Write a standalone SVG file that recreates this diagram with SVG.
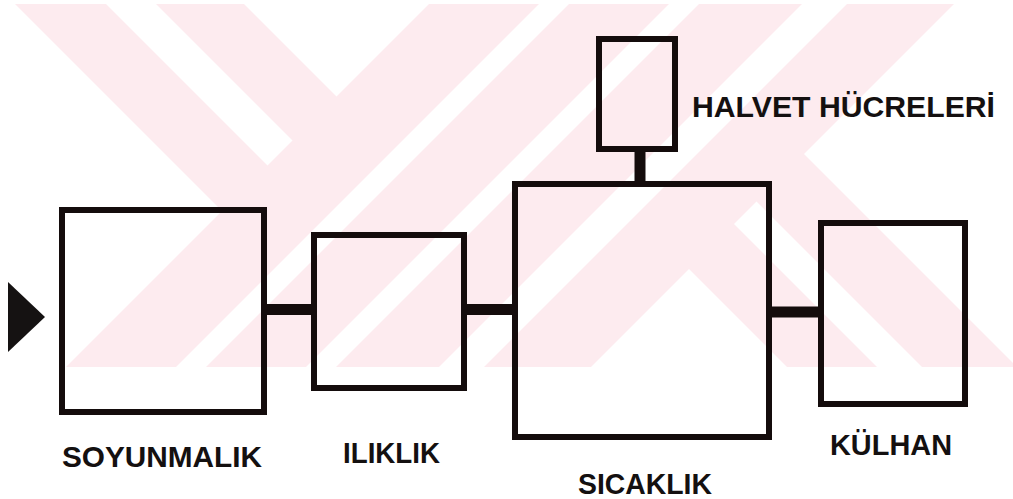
<svg xmlns="http://www.w3.org/2000/svg" width="1013" height="499" viewBox="0 0 1013 499">
  <style>
    .wm { fill: #fdebef; }
    .box { fill: none; stroke: #140c0c; stroke-width: 6; }
    .conn { stroke: #140c0c; stroke-width: 11; fill: none; }
    .lbl { font-family: "Liberation Sans", Arial, sans-serif; font-weight: bold; font-size: 30px; fill: #141010; }
  </style>
  <defs>
    <clipPath id="wmclip">
      <rect x="0" y="4" width="1013" height="363"/>
    </clipPath>
  </defs>
  <rect x="0" y="0" width="1013" height="499" fill="#ffffff"/>
  <!-- watermark -->
  <g id="watermark" clip-path="url(#wmclip)">
    <g transform="matrix(0.5 -0.5 0.5 0.5 0 0)">
      <rect class="wm" x="11" y="-400" width="91" height="840"/>
      <rect class="wm" x="152" y="-400" width="88" height="840"/>
      <rect class="wm" x="-500" y="433" width="1600" height="110"/>
      <rect class="wm" x="-500" y="573" width="1600" height="100"/>
      <rect class="wm" x="-500" y="703" width="1600" height="103"/>
      <rect class="wm" x="-500" y="851" width="1600" height="107"/>
      <rect class="wm" x="420" y="955" width="90" height="600"/>
      <rect class="wm" x="555" y="955" width="95" height="600"/>
    </g>
  </g>
  <!-- connectors -->
  <g id="connectors">
    <polygon points="8,282 45,317 8,352" fill="#151212"/>
    <line class="conn" x1="265" y1="309.5" x2="313" y2="309.5"/>
    <line class="conn" x1="465" y1="309.5" x2="514" y2="309.5"/>
    <line class="conn" x1="770" y1="312" x2="820" y2="312"/>
    <line class="conn" x1="640" y1="150" x2="640" y2="183"/>
  </g>
  <g id="soyunmalik">
    <rect class="box" x="62" y="210" width="202" height="202"/>
    <text class="lbl" x="62" y="467" textLength="200" lengthAdjust="spacingAndGlyphs">SOYUNMALIK</text>
  </g>
  <g id="iliklik">
    <rect class="box" x="314" y="235" width="150" height="153"/>
    <text class="lbl" x="343" y="463" textLength="97" lengthAdjust="spacingAndGlyphs">ILIKLIK</text>
  </g>
  <g id="sicaklik">
    <rect class="box" x="515" y="184" width="254" height="253"/>
    <text class="lbl" x="578" y="494" style="font-size:29px" textLength="134" lengthAdjust="spacingAndGlyphs">SICAKLIK</text>
  </g>
  <g id="halvet">
    <rect class="box" x="599" y="39" width="76" height="110"/>
    <text class="lbl" x="692" y="117" style="font-size:29px" textLength="303" lengthAdjust="spacingAndGlyphs">HALVET HÜCRELERİ</text>
  </g>
  <g id="kulhan">
    <rect class="box" x="821" y="223" width="144" height="181"/>
    <text class="lbl" x="830" y="455" textLength="122" lengthAdjust="spacingAndGlyphs">KÜLHAN</text>
  </g>
</svg>
